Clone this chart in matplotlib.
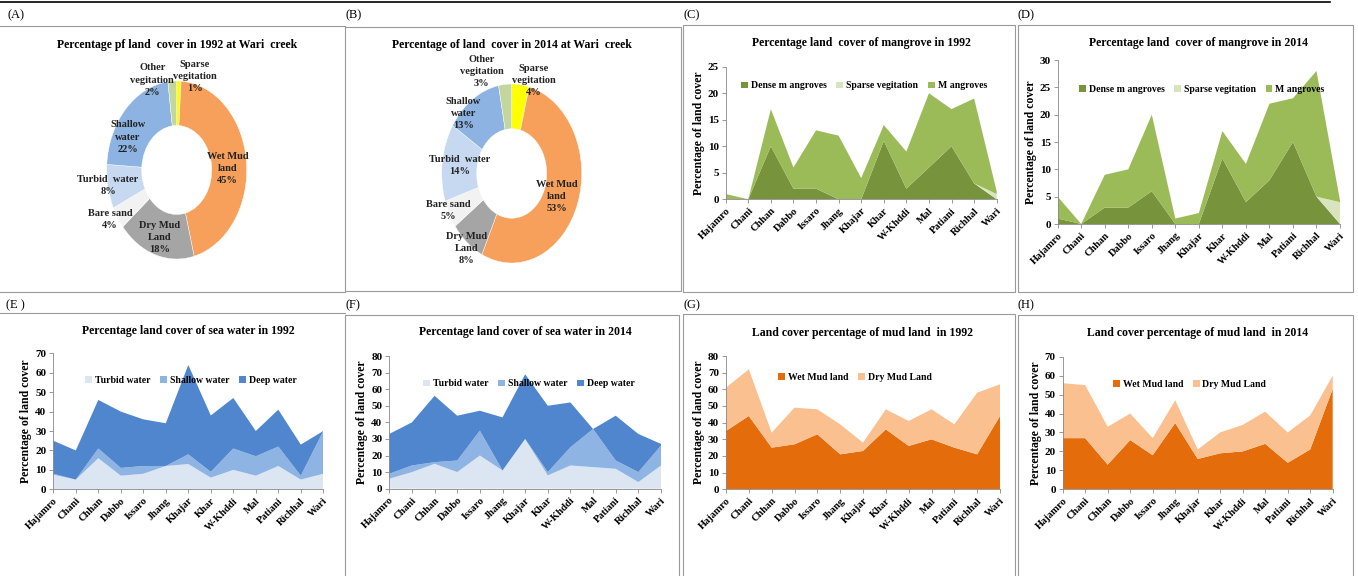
import numpy as np
import matplotlib
matplotlib.use('Agg')
import matplotlib.pyplot as plt
from matplotlib.lines import Line2D
from matplotlib.patches import Rectangle

plt.rcParams['font.family'] = 'Liberation Serif'

W, H = 1358, 576

sites = ['Hajamro', 'Chani', 'Chhan', 'Dabbo', 'Issaro', 'Jhang', 'Khajar',
         'Khar', 'W-Khddi', 'Mal', 'Patiani', 'Richhal', 'Wari']

# doughnut charts, whole creek
pie_names = ['Sparse\nvegitation', 'Wet Mud\nland', 'Dry Mud\nLand', 'Bare sand',
             'Turbid  water', 'Shallow\nwater', 'Other\nvegitation']
pie_1992 = [1, 45, 18, 4, 8, 22, 2]
pie_2014 = [4, 53, 8, 5, 14, 13, 3]
pie_colors = ['#FFFF00', '#F7A05B', '#A5A5A5', '#F2F2F2', '#C6D9F1', '#8DB3E2', '#C3D69B']

# mangrove classes per site
dense_1992 = [0, 0, 10, 2, 2, 0, 0, 11, 2, 6, 10, 3, 0]
sparse_1992 = [0, 0, 0, 0, 0, 0, 0, 0, 0, 0, 0, 0, 1]
mangr_1992 = [1, 0, 7, 4, 11, 12, 4, 3, 7, 14, 7, 16, 0.5]
dense_2014 = [1, 0, 3, 3, 6, 0, 0, 12, 4, 8, 15, 5, 0]
sparse_2014 = [0, 0, 0, 0, 0, 0, 0, 0, 0, 0, 0, 0, 4]
mangr_2014 = [4, 0, 6, 7, 14, 1, 2, 5, 7, 14, 8, 23, 0.3]

# sea water classes per site
turbid_1992 = [7.5, 5, 16, 7, 8, 12, 13, 6, 10, 7, 12, 5, 8]
shallow_1992 = [0.5, 0, 5, 4, 4, 0, 5, 3, 11, 10, 10, 2, 22]
deep_1992 = [17, 15, 25, 29, 24, 22, 46, 29, 26, 13, 19, 16, 0]
turbid_2014 = [6, 10, 15, 10, 20, 11, 30, 8, 14, 13, 12, 4, 14]
shallow_2014 = [3, 4, 1, 7, 15, 0, 0, 2, 11, 23, 5, 6, 12]
deep_2014 = [24, 26, 40, 27, 12, 32, 39, 40, 27, 0, 27, 23, 1]

# mud land per site
wet_1992 = [35, 44, 25, 27, 33, 21, 23, 36, 26, 30, 25, 21, 44]
dry_1992 = [26, 28, 9, 22, 15, 18, 5, 12, 15, 18, 14, 37, 19]
wet_2014 = [27, 27, 13, 26, 18, 35, 16, 19, 20, 24, 14, 21, 53]
dry_2014 = [29, 28, 20, 14, 9, 12, 5, 11, 14, 17, 16, 18, 7]


def rect(l, t, r, b):
    return [l / W, 1 - b / H, (r - l) / W, (b - t) / H]


fig = plt.figure(figsize=(W / 100, H / 100), dpi=100)

# panel frames and separators
frame = fig.add_axes([0, 0, 1, 1], zorder=-5)
frame.set_xlim(0, W)
frame.set_ylim(H, 0)
frame.axis('off')
frame.add_line(Line2D([0, 1330], [2, 2], color='black', lw=1.2))
gray = '#9A9A9A'
frame.add_line(Line2D([0, 345], [26, 26], color=gray, lw=0.8))
frame.add_line(Line2D([0, 345], [292, 292], color=gray, lw=0.8))
frame.add_line(Line2D([0, 345], [313, 313], color=gray, lw=0.8))
for (l, t, r, b) in [(345, 27, 681, 291), (683, 25, 1015, 292), (1018, 25, 1353, 292),
                     (345, 315, 679, 580), (683, 314, 1015, 580), (1018, 315, 1353, 580)]:
    frame.add_patch(Rectangle((l, t), r - l, b - t, fill=False, ec=gray, lw=0.8))
for lab, x, y in [('(A)', 8, 15), ('(B)', 345, 15), ('(C)', 683, 15), ('(D)', 1018, 15),
                  ('(E )', 6, 305), ('(F)', 345, 305), ('(G)', 683, 305), ('(H)', 1018, 305)]:
    frame.text(x, y, lab, fontsize=9, va='center', ha='left')


def doughnut(box, values, title, label_pos, title_y):
    ax = fig.add_axes(rect(*box))
    ax.pie(values, colors=pie_colors, startangle=90, counterclock=False,
           wedgeprops=dict(width=0.5, edgecolor='white', linewidth=0.3))
    ax.set_aspect('auto')
    ax.set_xlim(-1, 1)
    ax.set_ylim(-1, 1)
    for name, v, (x, y) in zip(pie_names, values, label_pos):
        ax.text(x, y, '%s\n%d%%' % (name, v), ha='center', va='center',
                fontsize=7.5, fontweight='bold', color='#222222', linespacing=1.45)
    cx = (box[0] + box[2]) / 2
    frame.text(cx, title_y, title, ha='center', va='center', fontsize=8.5, fontweight='bold')


doughnut((106.7, 81, 246.7, 259), pie_1992, 'Percentage pf land  cover in 1992 at Wari  creek',
         [(0.26, 1.05), (0.73, 0.02), (-0.24, -0.76), (-0.95, -0.56),
          (-0.98, -0.17), (-0.70, 0.37), (-0.35, 1.01)], 45)
doughnut((441.7, 84, 581.7, 263), pie_2014, 'Percentage of land  cover in 2014 at Wari  creek',
         [(0.31, 1.04), (0.64, -0.26), (-0.64, -0.84), (-0.91, -0.41),
          (-0.74, 0.09), (-0.69, 0.67), (-0.43, 1.14)], 45)


def area(box, series, colors, names, ymax, ystep, title, leg_xy, title_y):
    ax = fig.add_axes(rect(*box))
    x = np.arange(len(sites))
    ax.stackplot(x, *series, colors=colors, labels=names, lw=0)
    ax.set_xlim(0, len(sites) - 1)
    ax.set_ylim(0, ymax)
    ax.set_yticks(np.arange(0, ymax + 1, ystep))
    ax.set_xticks(x)
    ax.set_xticklabels(sites, rotation=45, ha='right', rotation_mode='anchor',
                       fontsize=7.5, fontweight='bold')
    for t in ax.get_yticklabels():
        t.set_fontweight('bold')
        t.set_fontsize(8)
    ax.tick_params(axis='both', length=3, color='#888888', width=0.6, pad=2)
    ax.spines['top'].set_visible(False)
    ax.spines['right'].set_visible(False)
    ax.spines['left'].set_color('#888888')
    ax.spines['bottom'].set_color('#888888')
    ax.spines['left'].set_linewidth(0.6)
    ax.spines['bottom'].set_linewidth(0.6)
    ax.set_ylabel('Percentage of land cover', fontsize=8.5, fontweight='bold', labelpad=2)
    ax.legend(loc='center', bbox_to_anchor=leg_xy, ncol=len(names), frameon=False,
              handlelength=0.7, handleheight=0.7, handletextpad=0.3, columnspacing=1.0,
              prop=dict(family='Liberation Serif', weight='bold', size=7))
    cx = (box[0] + box[2]) / 2
    frame.text(cx, title_y, title, ha='center', va='center', fontsize=8.5, fontweight='bold')
    return ax


green = ['#77933C', '#D7E4BD', '#9BBB59']
green_names = ['Dense m angroves', 'Sparse vegitation', 'M angroves']
blue = ['#DCE6F2', '#8EB4E3', '#4F86CD']
blue_names = ['Turbid water', 'Shallow water', 'Deep water']
orange = ['#E46C0A', '#FAC090']
orange_names = ['Wet Mud land', 'Dry Mud Land']

area((725.7, 66.7, 996.7, 199.3), [dense_1992, sparse_1992, mangr_1992], green, green_names,
     25, 5, 'Percentage land  cover of mangrove in 1992', (0.51, 0.855), 43)
area((1057.7, 60, 1340, 224), [dense_2014, sparse_2014, mangr_2014], green, green_names,
     30, 5, 'Percentage land  cover of mangrove in 2014', (0.51, 0.82), 43)
area((53.3, 353.3, 323.3, 489.3), [turbid_1992, shallow_1992, deep_1992], blue, blue_names,
     70, 10, 'Percentage land cover of sea water in 1992', (0.51, 0.80), 331)
area((389.3, 356, 661, 488.7), [turbid_2014, shallow_2014, deep_2014], blue, blue_names,
     80, 10, 'Percentage land cover of sea water in 2014', (0.514, 0.79), 332)
area((726, 356, 1000, 489.3), [wet_1992, dry_1992], orange, orange_names,
     80, 10, 'Land cover percentage of mud land  in 1992', (0.47, 0.84), 333)
area((1062.7, 356.7, 1332.7, 489.3), [wet_2014, dry_2014], orange, orange_names,
     70, 10, 'Land cover percentage of mud land  in 2014', (0.47, 0.79), 333)

fig.savefig('out.png', dpi=100, facecolor='white')
